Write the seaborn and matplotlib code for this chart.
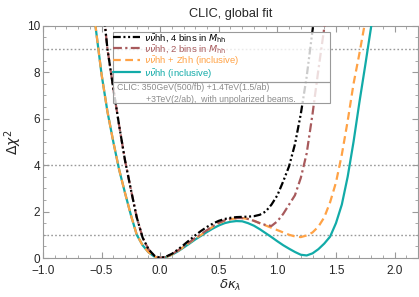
import numpy as np
import pandas as pd
import matplotlib
matplotlib.use("Agg")
import matplotlib.pyplot as plt
from matplotlib.patches import Rectangle
from matplotlib.ticker import MultipleLocator
import seaborn as sns

# ---------------- data ----------------
x_teal = [round(-0.60 + 0.05 * i, 2) for i in range(50)]
y_teal = [11.9, 9.9, 7.9, 6.3, 5.0, 3.8, 2.8, 1.85, 1.0, 0.55, 0.25, 0.06, 0.0,
          0.04, 0.14, 0.28, 0.45, 0.62, 0.8, 0.96, 1.12, 1.27, 1.40, 1.50, 1.56,
          1.59, 1.58, 1.50, 1.39, 1.24, 1.07, 0.9, 0.72, 0.55, 0.4, 0.26, 0.14,
          0.11, 0.2, 0.38, 0.62, 0.92, 1.5, 2.3, 3.5, 5.0, 6.7, 8.3, 9.95, 11.5]

x_orange = [round(-0.60 + 0.05 * i, 2) for i in range(49)]
y_orange = [11.9, 9.9, 7.9, 6.3, 5.0, 3.8, 2.8, 1.85, 1.0, 0.55, 0.25, 0.06, 0.0,
            0.04, 0.15, 0.3, 0.48, 0.66, 0.84, 1.0, 1.18, 1.35, 1.5, 1.6, 1.67,
            1.71, 1.72, 1.68, 1.6, 1.5, 1.4, 1.3, 1.2, 1.1, 1.0, 0.93, 0.9,
            0.97, 1.1, 1.35, 1.75, 2.4, 3.25, 4.45, 5.9, 7.5, 8.8, 10.2, 11.8]

x_black = [round(-0.50 + 0.05 * i, 2) for i in range(38)]
y_black = [11.4, 9.0, 7.3, 5.7, 4.2, 2.95, 1.75, 0.88, 0.38, 0.1, 0.0,
           0.06, 0.18, 0.36, 0.56, 0.77, 0.98, 1.17, 1.34, 1.48, 1.6, 1.68,
           1.73, 1.76, 1.77, 1.78, 1.8, 1.86, 2.0, 2.3, 2.7, 3.3, 3.95, 4.9,
           6.2, 7.8, 9.8, 11.8]

x_brown = [round(-0.50 + 0.05 * i, 2) for i in range(40)]
y_brown = [11.4, 9.0, 7.3, 5.7, 4.2, 2.95, 1.75, 0.88, 0.38, 0.1, 0.0,
           0.05, 0.16, 0.32, 0.5, 0.68, 0.87, 1.03, 1.2, 1.37, 1.52, 1.62,
           1.68, 1.72, 1.72, 1.68, 1.6, 1.5, 1.42, 1.38, 1.58, 1.9, 2.3, 2.7,
           3.45, 4.5, 6.2, 8.1, 9.9, 11.6]

labels = [r"$\nu\bar{\nu}$hh, 4 bins in $M_{\mathrm{hh}}$",
          r"$\nu\bar{\nu}$hh, 2 bins in $M_{\mathrm{hh}}$",
          r"$\nu\bar{\nu}$hh + Zhh (inclusive)",
          r"$\nu\bar{\nu}$hh (inclusive)"]
ref_levels = [1, 4, 9]
note_line1 = "CLIC: 350GeV(500/fb) +1.4TeV(1.5/ab)"
note_line2 = "+3TeV(2/ab),  with unpolarized beams."

# ---------------- style ----------------
sns.set_style("ticks")
plt.rcParams["font.family"] = ["Liberation Sans", "DejaVu Sans"]
plt.rcParams["mathtext.fontset"] = "dejavusans"

c_black = "#000000"
c_brown = "#A85A5C"
c_orange = "#FFA245"
c_teal = "#12ABA8"
frame_c = "#9a9a9a"

fig = plt.figure(figsize=(4.19, 2.97), dpi=100)
ax = fig.add_axes([0.1026, 0.1313, 0.8950, 0.7822])

df_teal = pd.DataFrame({"x": x_teal, "y": y_teal})
df_orange = pd.DataFrame({"x": x_orange, "y": y_orange})
df_brown = pd.DataFrame({"x": x_brown, "y": y_brown})
df_black = pd.DataFrame({"x": x_black, "y": y_black})

for lv in ref_levels:
    ax.axhline(lv, color="#999999", lw=1.0, ls=(0, (1.2, 1.6)), zorder=1)

sns.lineplot(data=df_teal, x="x", y="y", ax=ax, color=c_teal, lw=1.6,
             sort=False, zorder=3)
l_teal = ax.lines[-1]
sns.lineplot(data=df_orange, x="x", y="y", ax=ax, color=c_orange, lw=1.6,
             sort=False, zorder=4)
l_orange = ax.lines[-1]
l_orange.set_linestyle((0, (3.5, 2.0)))
sns.lineplot(data=df_brown, x="x", y="y", ax=ax, color=c_brown, lw=1.6,
             sort=False, zorder=5)
l_brown = ax.lines[-1]
l_brown.set_linestyle((0, (4.0, 1.5, 1.0, 1.5)))
sns.lineplot(data=df_black, x="x", y="y", ax=ax, color=c_black, lw=1.6,
             sort=False, zorder=6)
l_black = ax.lines[-1]
l_black.set_linestyle((0, (3.5, 1.2, 0.9, 1.2, 0.9, 1.2)))

ax.set_xlim(-1.0, 2.2)
ax.set_ylim(0, 10)
ax.xaxis.set_major_locator(MultipleLocator(0.5))
ax.xaxis.set_minor_locator(MultipleLocator(0.1))
ax.yaxis.set_major_locator(MultipleLocator(2))
ax.yaxis.set_minor_locator(MultipleLocator(0.5))
ax.set_xticks(np.arange(-1.0, 2.01, 0.5))
ax.set_xticklabels([f"{v:.1f}".replace("-", "\u2212") for v in np.arange(-1.0, 2.01, 0.5)])
ax.tick_params(which="both", direction="in", top=True, right=True,
               color=frame_c, labelsize=8.5)
ax.tick_params(axis="x", pad=5)
ax.tick_params(axis="y", pad=2)
ax.tick_params(which="major", length=4, width=0.8)
ax.tick_params(which="minor", length=2.2, width=0.6)
for s in ax.spines.values():
    s.set_color(frame_c)
    s.set_linewidth(0.8)

ax.set_xlabel(r"$\delta\kappa_\lambda$", fontsize=9.5, labelpad=1)
ax.set_ylabel(r"$\Delta\chi^2$", fontsize=10, labelpad=2)
ax.set_title("CLIC, global fit", fontsize=9.2, pad=6)

# ---------------- legend ----------------
bx0, bw = 0.187, 0.578
y_top, y_mid, y_bot = 0.973, 0.758, 0.667
for (yb, h) in [(y_mid, y_top - y_mid), (y_bot, y_mid - y_bot)]:
    ax.add_patch(Rectangle((bx0, yb), bw, h, transform=ax.transAxes,
                           facecolor="white", alpha=0.8, edgecolor="none",
                           zorder=10))
    ax.add_patch(Rectangle((bx0, yb), bw, h, transform=ax.transAxes,
                           facecolor="none", edgecolor=frame_c, lw=0.8,
                           zorder=11))

handles = [l_black, l_brown, l_orange, l_teal]
leg = ax.legend(handles, labels, loc="upper left",
                bbox_to_anchor=(bx0 - 0.005, y_top + 0.008),
                fontsize=6.8, handlelength=2.8, handletextpad=0.5,
                labelspacing=-0.08, borderpad=0.2, borderaxespad=0,
                frameon=False)
leg.set_zorder(12)
for t, c in zip(leg.get_texts(), [c_black, c_brown, c_orange, c_teal]):
    t.set_color(c)

ax.text(0.197, 0.732, note_line1, transform=ax.transAxes, fontsize=6.3,
        color="#8c8c8c", va="center", ha="left", zorder=12)
ax.text(0.275, 0.684, note_line2, transform=ax.transAxes, fontsize=6.3,
        color="#8c8c8c", va="center", ha="left", zorder=12)

fig.savefig("out.png", dpi=100)
